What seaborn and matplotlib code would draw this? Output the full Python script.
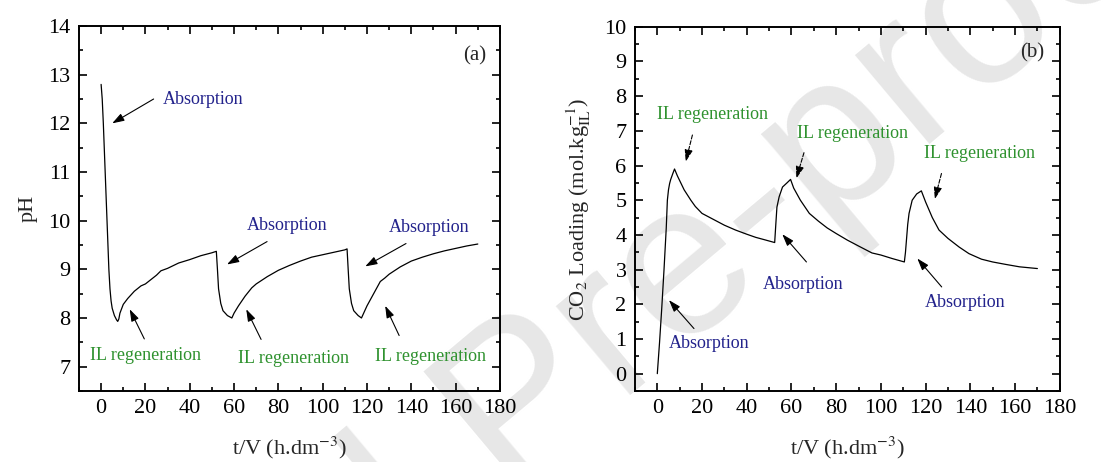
import numpy as np
import pandas as pd
import matplotlib
matplotlib.use("Agg")
import matplotlib.pyplot as plt
import seaborn as sns
from matplotlib.ticker import MultipleLocator

# ---- data ----
t_ph = [0, 0.5, 1, 1.5, 2, 2.5, 3, 3.5, 4, 4.5, 5, 6, 7, 7.5, 8, 8.5, 10, 12, 15, 18, 20,
        25, 27, 30, 35, 40, 45, 50, 52, 52.5, 53, 54, 55, 57, 59, 60, 62, 65, 68, 70,
        75, 80, 85, 90, 95, 100, 105, 110, 111, 111.5, 112, 113, 114, 116, 117.5, 118,
        120, 123, 126, 128, 130, 135, 140, 145, 150, 155, 160, 165, 170]
ph = [12.8, 12.5, 12.0, 11.4, 10.8, 10.2, 9.6, 9.0, 8.6, 8.35, 8.2, 8.05, 7.96, 7.93, 7.98,
      8.1, 8.28, 8.4, 8.55, 8.66, 8.7, 8.88, 8.97, 9.02, 9.13, 9.2, 9.28, 9.34, 9.37, 9.0,
      8.6, 8.3, 8.15, 8.05, 8.0, 8.1, 8.25, 8.45, 8.62, 8.7, 8.85, 8.98, 9.08, 9.17, 9.25,
      9.3, 9.35, 9.4, 9.42, 9.0, 8.6, 8.3, 8.15, 8.05, 8.0, 8.05, 8.25, 8.5, 8.75, 8.82,
      8.9, 9.05, 9.17, 9.25, 9.32, 9.38, 9.43, 9.48, 9.52]

t_co2 = [0, 1, 2, 3, 4, 4.5, 5, 5.5, 6, 7, 7.7, 9, 12, 15, 17, 20, 25, 30, 35, 40, 44, 48,
         52.5, 53, 53.5, 54.5, 56, 58, 59.6, 61, 64, 68, 72, 76, 80, 85, 90, 96, 100, 105,
         110.5, 111, 112, 112.6, 114, 116, 118.1, 120, 123, 126, 130, 135, 139.4, 145, 150,
         155.8, 162, 170]
co2 = [0, 0.9, 1.9, 3.0, 4.2, 5.0, 5.3, 5.48, 5.6, 5.78, 5.9, 5.7, 5.3, 5.0, 4.82, 4.62,
       4.45, 4.28, 4.14, 4.02, 3.93, 3.86, 3.78, 4.3, 4.8, 5.1, 5.38, 5.5, 5.6, 5.35, 5.0,
       4.62, 4.4, 4.2, 4.04, 3.85, 3.68, 3.48, 3.42, 3.32, 3.22, 3.5, 4.3, 4.62, 5.0, 5.18,
       5.27, 4.95, 4.5, 4.14, 3.9, 3.65, 3.46, 3.3, 3.22, 3.15, 3.08, 3.03]

x_ticks = [0, 20, 40, 60, 80, 100, 120, 140, 160, 180]
ph_ticks = [7, 8, 9, 10, 11, 12, 13, 14]
co2_ticks = [0, 1, 2, 3, 4, 5, 6, 7, 8, 9, 10]

# annotations: (text, text_xy, arrow_tail, arrow_head, kind)
ann_a = [
    ("Absorption", (27.8, 12.5), (23.7, 12.5), (5.0, 12.0), "abs"),
    ("Absorption", (65.8, 9.9), (74.9, 9.57), (56.8, 9.1), "abs"),
    ("Absorption", (129.7, 9.86), (137.6, 9.53), (119.2, 9.06), "abs"),
    ("IL regeneration", (-4.8, 7.23), (19.5, 7.57), (12.9, 8.18), "reg"),
    ("IL regeneration", (61.8, 7.16), (72.2, 7.56), (65.5, 8.18), "reg"),
    ("IL regeneration", (123.7, 7.2), (134.5, 7.64), (128.2, 8.25), "reg"),
]
ann_b = [
    ("IL regeneration", (0.0, 7.47), (15.7, 6.88), (12.7, 6.11), "reg"),
    ("IL regeneration", (62.6, 6.92), (65.6, 6.37), (62.2, 5.63), "reg"),
    ("IL regeneration", (119.3, 6.35), (127.1, 5.77), (124.1, 5.03), "reg"),
    ("Absorption", (5.2, 0.87), (16.4, 1.3), (5.2, 2.12), "abs"),
    ("Absorption", (47.4, 2.57), (66.7, 3.22), (55.9, 4.02), "abs"),
    ("Absorption", (119.6, 2.05), (127.2, 2.5), (116.3, 3.32), "abs"),
]

df_ph = pd.DataFrame({"t": t_ph, "pH": ph})
df_co2 = pd.DataFrame({"t": t_co2, "co2": co2})

sns.set_theme(style="ticks")
plt.rcParams["font.family"] = ["Liberation Serif", "DejaVu Serif"]
plt.rcParams["mathtext.fontset"] = "stix"

BLUE = "#23238c"
GREEN = "#2f922f"

fig = plt.figure(figsize=(11.12, 4.62), dpi=100)
fig.patch.set_facecolor("white")

# faint "Journal Pre-proof" watermark behind the plots
fig.text(-0.082, -1.165, "Journal Pre-proof", fontsize=158, color="#e7e7e7",
         family=["Liberation Sans", "DejaVu Sans"], rotation=40, rotation_mode="anchor",
         ha="left", va="baseline", zorder=-5)

ax1 = fig.add_axes([0.071, 0.1537, 0.3786, 0.79])
ax2 = fig.add_axes([0.571, 0.1537, 0.382, 0.7883])
for ax in (ax1, ax2):
    ax.set_facecolor("none")

sns.lineplot(data=df_ph, x="t", y="pH", ax=ax1, color="black", lw=0.9, sort=False)
sns.lineplot(data=df_co2, x="t", y="co2", ax=ax2, color="black", lw=0.9, sort=False)


def style(ax, yticks, ylim, ylabel, minor_y):
    ax.set_xlim(-10, 180)
    ax.set_ylim(*ylim)
    ax.set_xticks(x_ticks)
    ax.set_yticks(yticks)
    ax.xaxis.set_minor_locator(MultipleLocator(10))
    ax.yaxis.set_minor_locator(MultipleLocator(minor_y))
    ax.tick_params(which="both", direction="in", top=True, right=True, width=1.2,
                   labelsize=16, colors="black")
    ax.tick_params(which="major", length=6, pad=6)
    ax.tick_params(which="minor", length=3)
    for s in ax.spines.values():
        s.set_visible(True)
        s.set_linewidth(1.4)
        s.set_color("black")
    ax.set_xlabel("t/V (h.dm$^{-3}$)", fontsize=16, labelpad=12)
    ax.set_ylabel(ylabel, fontsize=16, labelpad=8)


style(ax1, ph_ticks, (6.5, 14), "pH", 0.5)
style(ax2, co2_ticks, (-0.5, 10), "CO$_2$ Loading (mol.kg$_{\\mathrm{IL}}^{-1}$)", 0.5)


def annotate(ax, items, dashed_reg):
    for text, txy, tail, head, kind in items:
        color = BLUE if kind == "abs" else GREEN
        ax.text(txy[0], txy[1], text, color=color, fontsize=13, ha="left", va="center")
        ls = "--" if (dashed_reg and kind == "reg") else "-"
        ax.annotate("", xy=head, xytext=tail,
                    arrowprops=dict(arrowstyle="-|>,head_length=0.6,head_width=0.2",
                                    color="black", lw=0.8, linestyle=ls,
                                    shrinkA=0, shrinkB=0))


annotate(ax1, ann_a, False)
annotate(ax2, ann_b, True)

ax1.text(168.8, 13.38, "(a)", fontsize=15, ha="center", va="center")
ax2.text(167.8, 9.26, "(b)", fontsize=15, ha="center", va="center")

fig.savefig("out.png", dpi=100, facecolor="white")
